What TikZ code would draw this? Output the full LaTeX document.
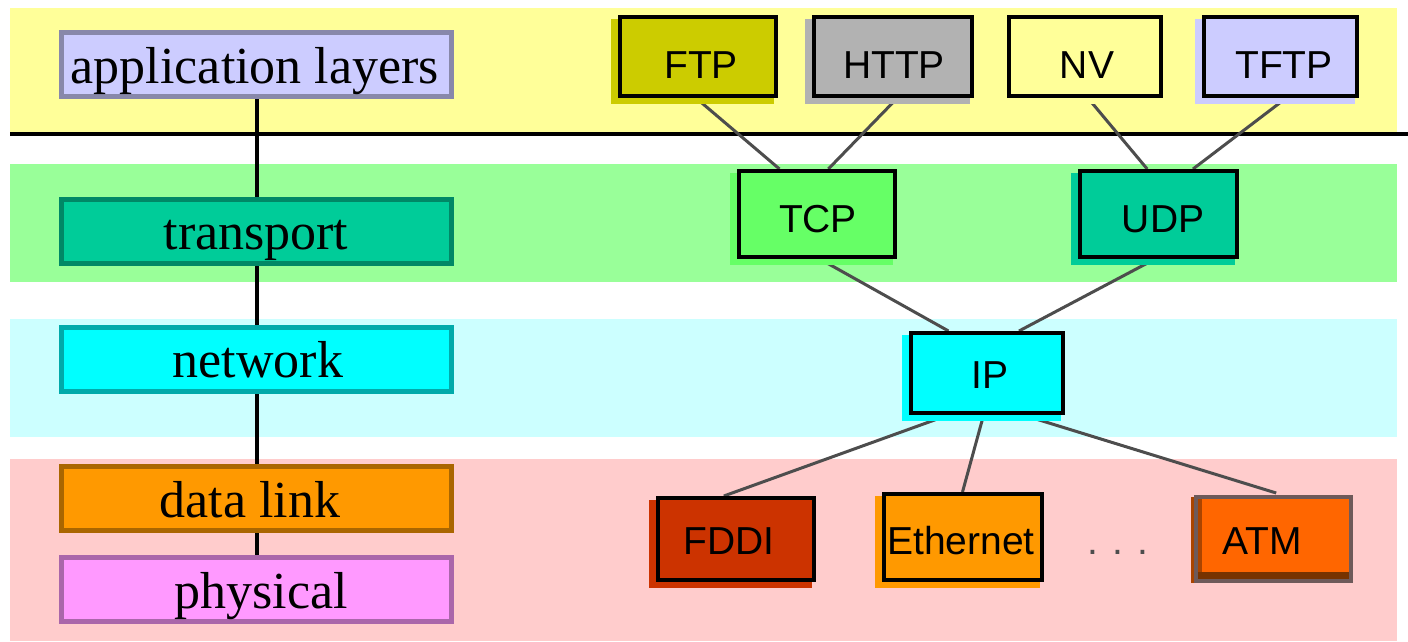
\documentclass[tikz,border=0pt]{standalone}
\usepackage{fontspec}
\setmainfont{Liberation Serif}
\newfontfamily\protofont{Liberation Sans}
\usetikzlibrary{calc}
\definecolor{bandYellow}{HTML}{FFFF99}
\definecolor{bandGreen}{HTML}{99FF99}
\definecolor{bandCyan}{HTML}{CCFFFF}
\definecolor{bandPink}{HTML}{FFCCCC}
\definecolor{appFill}{HTML}{CCCCFF}
\definecolor{appDraw}{HTML}{8888AA}
\definecolor{trFill}{HTML}{00CC99}
\definecolor{trDraw}{HTML}{008866}
\definecolor{netFill}{HTML}{00FFFF}
\definecolor{netDraw}{HTML}{00AAAA}
\definecolor{dlFill}{HTML}{FF9900}
\definecolor{dlDraw}{HTML}{AA6600}
\definecolor{phFill}{HTML}{FF99FF}
\definecolor{phDraw}{HTML}{AA66AA}
\definecolor{ftpFill}{HTML}{CCCC00}
\definecolor{httpFill}{HTML}{B2B2B2}
\definecolor{tcpFill}{HTML}{66FF66}
\definecolor{fddiFill}{HTML}{CC3300}
\definecolor{atmFill}{HTML}{FF6600}
\definecolor{atmDraw}{HTML}{6E5A5A}
\definecolor{atmLeft}{HTML}{AA4400}
\definecolor{atmBottom}{HTML}{773300}
\definecolor{connGray}{HTML}{4D4D4D}
\newcommand\protobox[6]{%
  \fill[#6] ({#2-7},{#3+4}) rectangle ({#4-4},{#5+6});
  \node[pbox, fill=#6, minimum width={#4-#2-4}, minimum height={#5-#3-4}] (#1) at ({(#2+#4)/2},{(#3+#5)/2}) {};
}
\begin{document}
\begin{tikzpicture}[x=1pt,y=-1pt,
  layerbox/.style={draw, line width=5pt, minimum width=390pt, minimum height=64pt, inner sep=0pt},
  layertext/.style={anchor=base, inner sep=0pt, font=\fontsize{52}{60}\selectfont},
  pbox/.style={draw=black, line width=4pt, inner sep=0pt},
  ptext/.style={anchor=base, inner sep=0pt, font=\protofont\fontsize{39}{46}\selectfont},
  conn/.style={draw=connGray, line width=3pt},
  vline/.style={draw=black, line width=4pt}]
\useasboundingbox (0,0) rectangle (1408,641);
% bands
\fill[bandYellow] (10,8) rectangle (1397,132);
\fill[bandGreen] (10,164) rectangle (1397,282);
\fill[bandCyan] (10,319) rectangle (1397,437);
\fill[bandPink] (10,459) rectangle (1397,641);
\coordinate (sepL) at (10,134);
\coordinate (sepR) at (1408,134);
\draw[vline] (sepL) -- (sepR);

% left layer boxes (nodes first, drawn later on top of line)
\path
  node[layerbox, draw=appDraw, fill=appFill] (app) at (256.5,64.5) {}
  node[layerbox, draw=trDraw, fill=trFill] (tr) at (256.5,231.5) {}
  node[layerbox, draw=netDraw, fill=netFill] (net) at (256.5,359.5) {}
  node[layerbox, draw=dlDraw, fill=dlFill] (dl) at (256.5,498.5) {}
  node[layerbox, draw=phDraw, fill=phFill] (ph) at (256.5,589.5) {};
\draw[vline] (app.south) -- (ph.north);
\path
  node[layerbox, draw=trDraw, fill=trFill] at (tr) {}
  node[layerbox, draw=netDraw, fill=netFill] at (net) {}
  node[layerbox, draw=dlDraw, fill=dlFill] at (dl) {};
\node[layertext] (appT) at (255,83) {application layers};
\node[layertext] (trT) at (256,249) {transport};
\node[layertext] (netT) at (258,377) {network};
\node[layertext] (dlT) at (250,517) {data link};
\node[layertext] (phT) at (261,608) {physical};

% protocol boxes: geometry nodes (invisible) for connectors
\path
  node[pbox, draw=none, minimum width=156pt, minimum height=79pt] (ftp) at (698,56.5) {}
  node[pbox, draw=none, minimum width=158pt, minimum height=79pt] (http) at (893,56.5) {}
  node[pbox, draw=none, minimum width=152pt, minimum height=79pt] (nv) at (1085,56.5) {}
  node[pbox, draw=none, minimum width=153pt, minimum height=79pt] (tftp) at (1280.5,56.5) {}
  node[pbox, draw=none, minimum width=156pt, minimum height=86pt] (tcp) at (817,214) {}
  node[pbox, draw=none, minimum width=157pt, minimum height=86pt] (udp) at (1158.5,214) {}
  node[pbox, draw=none, minimum width=152pt, minimum height=80pt] (ip) at (987,373) {}
  node[pbox, draw=none, minimum width=156pt, minimum height=82pt] (fddi) at (736,539) {}
  node[pbox, draw=none, minimum width=158pt, minimum height=86pt] (eth) at (963,537) {}
  node[pbox, draw=none, minimum width=157pt, minimum height=85pt] (atm) at (1273.5,537.5) {};

% connectors
\draw[conn] ([xshift=-2pt]ftp.south) -- ([xshift=-37.5pt]tcp.north);
\draw[conn] ([xshift=4.3pt]http.south) -- ([xshift=11.3pt]tcp.north);
\draw[conn] ([xshift=2.9pt]nv.south) -- ([xshift=-11.3pt]udp.north);
\draw[conn] ([xshift=5.7pt]tftp.south) -- ([xshift=34.5pt]udp.north);
\draw[conn] ([xshift=2.8pt]tcp.south) -- ([xshift=-38.5pt]ip.north);
\draw[conn] ([xshift=-3.4pt]udp.south) -- ([xshift=32pt]ip.north);
\draw[conn] ([xshift=-38.6pt]ip.south) -- ([xshift=-12.2pt]fddi.north);
\draw[conn] ([xshift=-3.4pt]ip.south) -- ([xshift=-0.5pt]eth.north);
\draw[conn] ([xshift=36pt]ip.south) -- ([xshift=2.7pt]atm.north);

% visible protocol boxes
\protobox{ftpB}{618}{15}{778}{98}{ftpFill}
\protobox{httpB}{812}{15}{974}{98}{httpFill}
\protobox{nvB}{1007}{15}{1163}{98}{bandYellow}
\protobox{tftpB}{1202}{15}{1359}{98}{appFill}
\protobox{tcpB}{737}{169}{897}{259}{tcpFill}
\protobox{udpB}{1078}{169}{1239}{259}{trFill}
\protobox{ipB}{909}{331}{1065}{415}{netFill}
\protobox{fddiB}{656}{496}{816}{582}{fddiFill}
\protobox{ethB}{882}{492}{1044}{582}{dlFill}
% ATM box (faded border)
\fill[atmFill] (1191,497) rectangle (1352,583);
\fill[atmLeft] (1191,497) rectangle (1202,583);
\fill[atmBottom] (1196,572) rectangle (1350,583);
\node[pbox, draw=atmDraw, line width=4pt, minimum width=155pt, minimum height=84pt] (atmB) at (1273,539) {};

% protocol labels
\node[ptext] (ftpT) at (701,78) {FTP};
\node[ptext] (httpT) at (894,78) {HTTP};
\node[ptext] (nvT) at (1087,78) {NV};
\node[ptext] (tftpT) at (1284,78) {TFTP};
\node[ptext] (tcpT) at (818,232) {TCP};
\node[ptext] (udpT) at (1163,232) {UDP};
\node[ptext] (ipT) at (990,388) {IP};
\node[ptext] (fddiT) at (729,554) {FDDI};
\node[ptext] (ethT) at (961,554) {Ethernet};
\node[ptext] (atmT) at (1262,554) {ATM};
\node[ptext, text=connGray] (dots) at (1118,554) {. . .};
\end{tikzpicture}
\end{document}
